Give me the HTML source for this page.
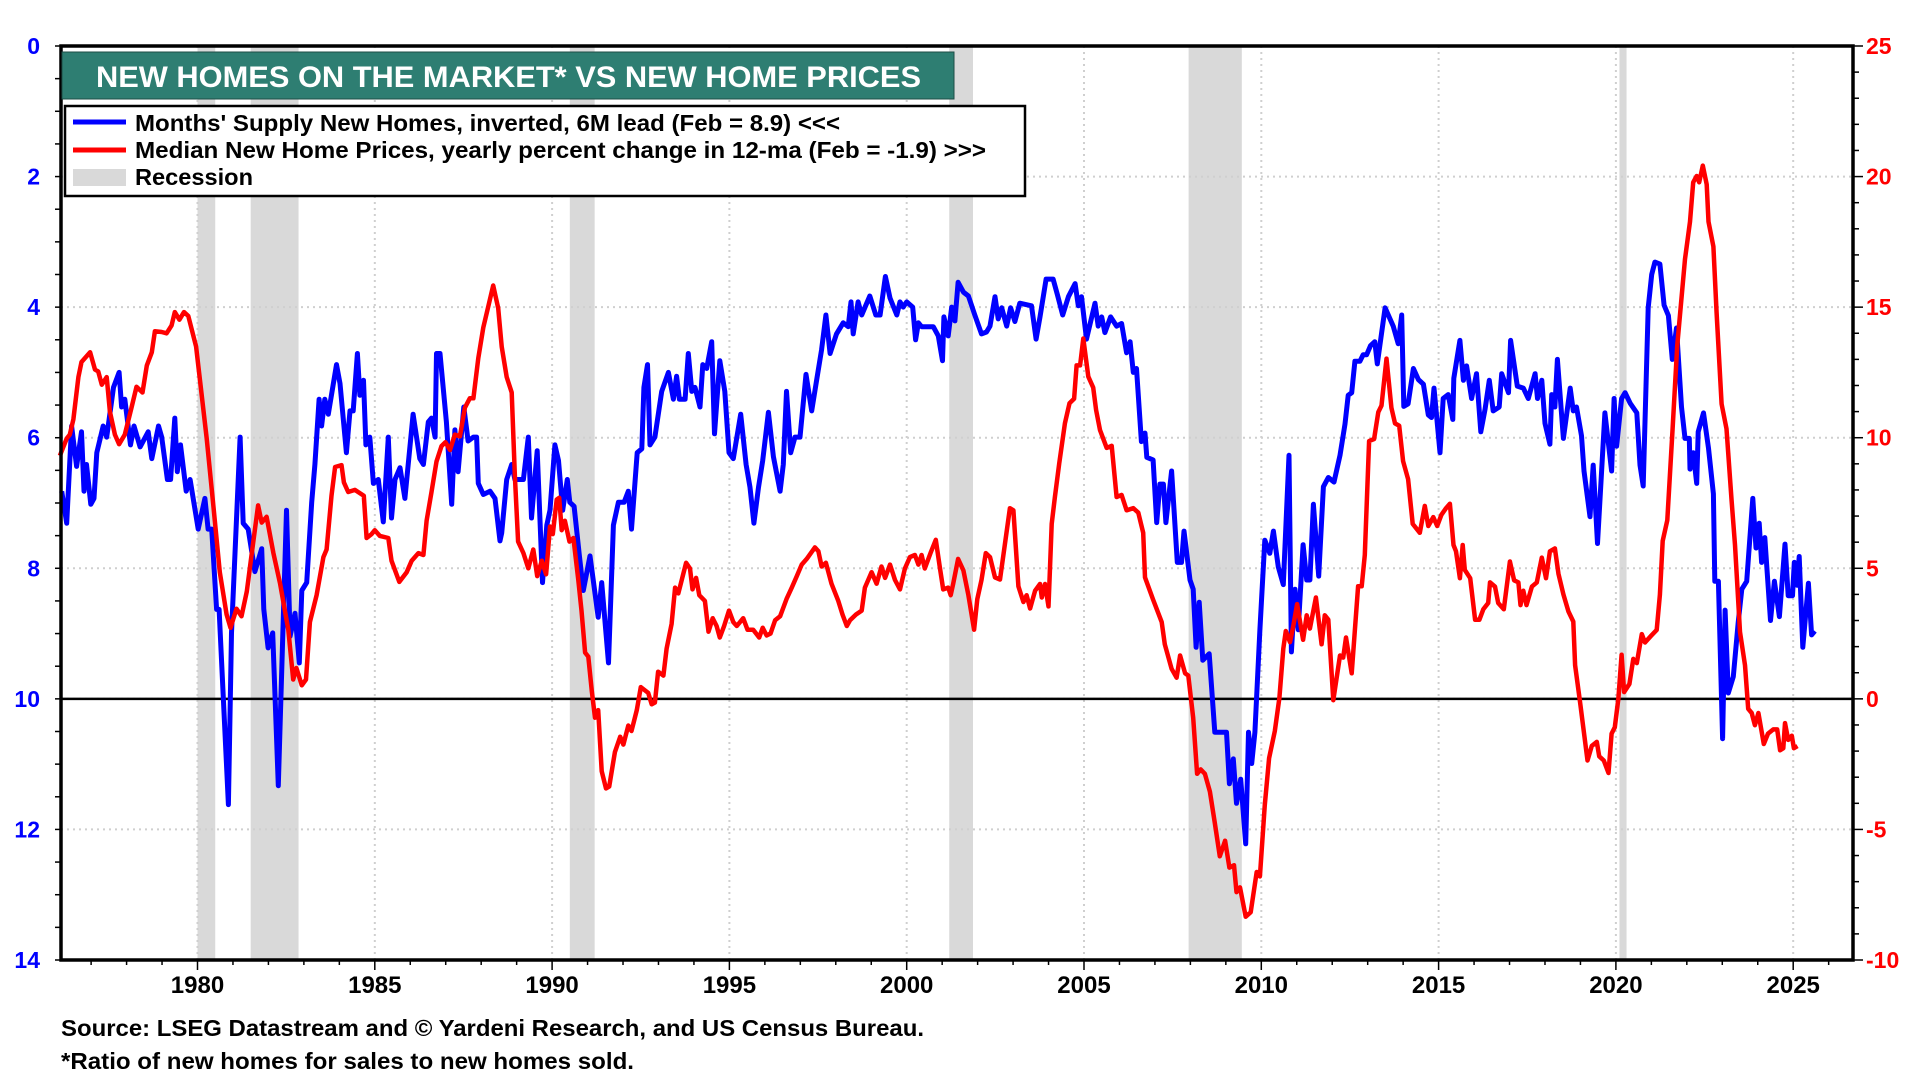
<!DOCTYPE html>
<html><head><meta charset="utf-8"><title>New Homes on the Market vs New Home Prices</title>
<style>
html,body{margin:0;padding:0;background:#fff;}
body{width:1920px;height:1080px;overflow:hidden;font-family:"Liberation Sans",Arial,sans-serif;}
svg text{font-family:"Liberation Sans",Arial,sans-serif;font-weight:bold;}
</style></head>
<body>
<svg id="chart" width="1920" height="1080" viewBox="0 0 1920 1080" xmlns="http://www.w3.org/2000/svg">
<g id="rec"></g>
<g id="grid"></g>
<line id="zeroline" x1="61" x2="1853" stroke="#000" stroke-width="2.5"/>
<g id="series"></g>
<g id="axes"></g>
<rect x="61" y="46" width="1792" height="914" fill="none" stroke="#000" stroke-width="3.5"/>
<g>
<rect x="62" y="52" width="892" height="47" fill="#2e7e72" stroke="#1d4d46" stroke-width="1"/>
<text x="96" y="87" textLength="825" lengthAdjust="spacingAndGlyphs" fill="#fff" font-size="30">NEW HOMES ON THE MARKET* VS NEW HOME PRICES</text>
</g>
<g>
<rect x="65" y="106" width="960" height="90" fill="#fff" stroke="#000" stroke-width="2.5"/>
<g><line x1="73" x2="126" y1="122" y2="122" stroke="#0000ff" stroke-width="5"/><text x="135" y="131" font-size="23" textLength="705" lengthAdjust="spacingAndGlyphs" fill="#000">Months' Supply New Homes, inverted, 6M lead (Feb = 8.9) &lt;&lt;&lt;</text></g>
<g><line x1="73" x2="126" y1="150" y2="150" stroke="#ff0000" stroke-width="5"/><text x="135" y="158" font-size="23" textLength="851" lengthAdjust="spacingAndGlyphs" fill="#000">Median New Home Prices, yearly percent change in 12-ma  (Feb = -1.9) &gt;&gt;&gt;</text></g>
<g><rect x="73" y="169" width="53" height="17" fill="#d9d9d9"/><text x="135" y="185" font-size="23" textLength="118" lengthAdjust="spacingAndGlyphs" fill="#000">Recession</text></g>
</g>
<text x="61" y="1036" font-size="23" textLength="863" lengthAdjust="spacingAndGlyphs" fill="#000">Source: LSEG Datastream and © Yardeni Research, and US Census Bureau.</text>
<text x="61" y="1069" font-size="23" textLength="573" lengthAdjust="spacingAndGlyphs" fill="#000">*Ratio of new homes for sales to new homes sold.</text>
</svg>
<script>
const blueYears=[1976.17,1976.31,1976.45,1976.59,1976.73,1976.80,1976.87,1976.99,1977.08,1977.16,1977.34,1977.44,1977.63,1977.79,1977.86,1977.95,1978.11,1978.21,1978.38,1978.61,1978.71,1978.90,1978.99,1979.15,1979.24,1979.36,1979.43,1979.52,1979.68,1979.79,1980.02,1980.21,1980.30,1980.40,1980.54,1980.61,1980.87,1980.96,1981.20,1981.29,1981.43,1981.62,1981.81,1981.87,1981.99,1982.12,1982.28,1982.51,1982.61,1982.75,1982.87,1982.94,1983.08,1983.22,1983.31,1983.43,1983.50,1983.59,1983.69,1983.92,1984.02,1984.20,1984.30,1984.39,1984.51,1984.58,1984.68,1984.75,1984.86,1984.96,1985.10,1985.24,1985.38,1985.47,1985.57,1985.71,1985.85,1986.08,1986.27,1986.37,1986.51,1986.60,1986.70,1986.74,1986.84,1987.02,1987.17,1987.26,1987.35,1987.51,1987.63,1987.78,1987.87,1987.92,1988.06,1988.25,1988.39,1988.53,1988.58,1988.72,1988.86,1988.95,1989.04,1989.19,1989.33,1989.42,1989.58,1989.73,1989.85,1989.94,1990.08,1990.18,1990.30,1990.43,1990.50,1990.62,1990.77,1990.88,1991.07,1991.30,1991.40,1991.59,1991.73,1991.87,1992.03,1992.15,1992.24,1992.40,1992.53,1992.59,1992.69,1992.76,1992.90,1993.09,1993.28,1993.42,1993.51,1993.59,1993.75,1993.84,1993.94,1994.03,1994.17,1994.25,1994.36,1994.50,1994.58,1994.73,1994.87,1994.99,1995.11,1995.32,1995.47,1995.58,1995.69,1995.82,1995.94,1996.10,1996.24,1996.43,1996.52,1996.61,1996.73,1996.85,1996.99,1997.16,1997.32,1997.46,1997.60,1997.72,1997.84,1998.02,1998.21,1998.35,1998.43,1998.49,1998.63,1998.73,1998.96,1999.13,1999.25,1999.40,1999.53,1999.72,1999.81,1999.90,2000.00,2000.17,2000.25,2000.33,2000.42,2000.75,2000.89,2001.01,2001.05,2001.17,2001.27,2001.36,2001.45,2001.60,2001.74,2001.92,2002.11,2002.25,2002.35,2002.49,2002.58,2002.68,2002.82,2002.93,2003.05,2003.19,2003.52,2003.65,2003.76,2003.93,2004.13,2004.25,2004.40,2004.56,2004.75,2004.84,2004.93,2005.07,2005.31,2005.40,2005.50,2005.59,2005.75,2005.92,2006.06,2006.20,2006.30,2006.39,2006.48,2006.62,2006.72,2006.77,2006.95,2007.05,2007.14,2007.24,2007.31,2007.47,2007.63,2007.75,2007.82,2007.99,2008.08,2008.16,2008.25,2008.35,2008.53,2008.69,2008.85,2009.02,2009.10,2009.21,2009.30,2009.42,2009.56,2009.64,2009.73,2009.82,2009.96,2010.10,2010.24,2010.34,2010.48,2010.62,2010.78,2010.85,2010.95,2011.04,2011.18,2011.28,2011.37,2011.47,2011.62,2011.75,2011.89,2012.05,2012.22,2012.36,2012.45,2012.55,2012.64,2012.78,2012.87,2012.97,2013.08,2013.20,2013.27,2013.49,2013.72,2013.86,2013.96,2014.02,2014.14,2014.29,2014.43,2014.57,2014.71,2014.80,2014.87,2014.94,2015.04,2015.13,2015.27,2015.40,2015.43,2015.60,2015.70,2015.79,2015.93,2016.07,2016.19,2016.31,2016.43,2016.54,2016.71,2016.78,2016.97,2017.03,2017.22,2017.39,2017.53,2017.72,2017.79,2017.91,2018.00,2018.14,2018.19,2018.28,2018.35,2018.52,2018.71,2018.80,2018.89,2019.03,2019.10,2019.27,2019.36,2019.48,2019.69,2019.88,2019.95,2020.02,2020.16,2020.26,2020.40,2020.59,2020.68,2020.77,2020.91,2021.01,2021.10,2021.24,2021.36,2021.48,2021.59,2021.71,2021.85,2021.95,2022.07,2022.09,2022.18,2022.28,2022.32,2022.47,2022.61,2022.75,2022.79,2022.89,2023.01,2023.08,2023.17,2023.31,2023.45,2023.55,2023.69,2023.86,2023.95,2024.04,2024.11,2024.20,2024.36,2024.47,2024.61,2024.77,2024.86,2024.98,2025.03,2025.11,2025.17,2025.27,2025.43,2025.52,2025.61];
const blueValues=[6.82,7.31,5.82,6.44,5.91,6.82,6.41,7.02,6.93,6.23,5.82,5.99,5.23,5.00,5.53,5.41,6.11,5.82,6.14,5.91,6.32,5.82,5.99,6.64,6.64,5.70,6.52,6.11,6.82,6.64,7.40,6.93,7.40,7.40,8.63,8.63,11.62,8.99,5.99,7.31,7.40,8.05,7.70,8.63,9.22,8.99,11.33,7.11,9.04,8.69,9.45,8.34,8.22,6.99,6.41,5.41,5.82,5.41,5.64,4.88,5.17,6.23,5.59,5.59,4.71,5.35,5.12,6.11,5.99,6.70,6.64,7.29,5.99,7.23,6.64,6.46,6.93,5.64,6.32,6.41,5.76,5.70,5.99,4.71,4.71,5.76,7.02,5.88,6.52,5.53,6.05,5.99,5.99,6.70,6.87,6.82,6.93,7.58,7.46,6.64,6.41,6.64,6.64,6.64,5.99,7.23,6.20,8.22,7.34,7.11,6.11,6.35,7.11,6.64,6.99,7.05,7.81,8.34,7.81,8.75,8.22,9.45,7.34,6.99,6.99,6.82,7.40,6.23,6.17,5.23,4.88,6.11,5.99,5.29,5.00,5.41,5.06,5.41,5.41,4.71,5.29,5.23,5.53,4.88,4.94,4.53,5.94,4.82,5.29,6.23,6.32,5.64,6.41,6.76,7.31,6.76,6.35,5.61,6.29,6.82,6.41,5.29,6.23,5.99,5.99,5.03,5.59,5.12,4.65,4.12,4.71,4.41,4.24,4.30,3.92,4.41,3.92,4.12,3.83,4.12,4.12,3.53,3.86,4.12,3.92,4.00,3.92,4.00,4.50,4.24,4.30,4.30,4.44,4.82,4.15,4.44,4.00,4.21,3.62,3.77,3.83,4.12,4.41,4.38,4.29,3.84,4.18,4.01,4.29,4.01,4.22,3.94,3.98,4.49,4.15,3.57,3.57,3.81,4.12,3.84,3.64,3.98,3.84,4.49,3.94,4.29,4.15,4.39,4.15,4.29,4.25,4.70,4.53,5.00,4.94,6.06,5.93,6.30,6.34,7.30,6.71,6.71,7.30,6.51,7.91,7.91,7.43,8.18,8.32,9.21,8.52,9.41,9.31,10.51,10.51,10.51,11.30,10.92,11.60,11.23,12.22,10.51,10.99,10.51,8.94,7.57,7.77,7.43,7.98,8.25,6.27,9.28,8.32,8.94,7.64,8.18,8.18,7.02,8.12,6.75,6.61,6.68,6.27,5.79,5.35,5.31,4.83,4.83,4.73,4.73,4.59,4.53,4.87,4.01,4.29,4.56,4.12,5.52,5.48,4.94,5.11,5.18,5.65,5.69,5.24,5.65,6.23,5.40,5.34,5.72,5.09,4.51,5.12,4.90,5.40,5.02,5.91,5.56,5.12,5.59,5.53,5.02,5.31,4.51,5.21,5.24,5.40,5.02,5.40,5.12,5.78,6.10,5.34,5.53,4.80,6.01,5.24,5.59,5.53,5.97,6.51,7.21,6.42,7.62,5.62,6.51,5.40,6.13,5.40,5.31,5.47,5.62,6.42,6.74,4.01,3.50,3.31,3.34,3.97,4.13,4.80,4.32,5.53,6.01,6.01,6.48,6.23,6.70,5.91,5.62,6.16,6.86,8.20,8.20,10.61,8.64,9.91,9.66,8.83,8.32,8.20,6.93,7.69,7.31,7.91,7.53,8.80,8.20,8.74,7.63,8.42,8.42,7.91,8.26,7.82,9.21,8.23,9.02,8.96];
const redYears=[1976.12,1976.31,1976.40,1976.50,1976.64,1976.73,1976.97,1977.11,1977.20,1977.30,1977.44,1977.53,1977.67,1977.79,1977.95,1978.14,1978.28,1978.45,1978.57,1978.71,1978.80,1978.99,1979.13,1979.27,1979.36,1979.49,1979.62,1979.74,1979.96,1980.26,1980.45,1980.63,1980.82,1980.93,1981.10,1981.24,1981.39,1981.53,1981.71,1981.81,1981.95,1982.14,1982.33,1982.56,1982.70,1982.79,1982.94,1983.06,1983.17,1983.36,1983.55,1983.64,1983.78,1983.88,1984.06,1984.13,1984.25,1984.44,1984.53,1984.69,1984.77,1984.91,1985.00,1985.14,1985.38,1985.47,1985.69,1985.90,1986.04,1986.23,1986.37,1986.46,1986.60,1986.74,1986.88,1986.99,1987.12,1987.26,1987.40,1987.54,1987.68,1987.78,1987.92,1988.06,1988.20,1988.34,1988.48,1988.58,1988.72,1988.86,1988.95,1989.04,1989.19,1989.33,1989.47,1989.58,1989.71,1989.83,1989.94,1990.02,1990.13,1990.20,1990.27,1990.36,1990.49,1990.60,1990.74,1990.83,1990.93,1991.02,1991.12,1991.21,1991.30,1991.40,1991.52,1991.61,1991.77,1991.92,1992.01,1992.15,1992.24,1992.39,1992.50,1992.71,1992.81,1992.90,1992.99,1993.14,1993.23,1993.37,1993.47,1993.56,1993.63,1993.78,1993.89,1993.96,1994.06,1994.15,1994.31,1994.41,1994.53,1994.64,1994.73,1994.85,1994.99,1995.11,1995.21,1995.39,1995.51,1995.67,1995.84,1995.94,1996.05,1996.16,1996.29,1996.43,1996.61,1996.76,1996.90,1997.04,1997.18,1997.41,1997.51,1997.60,1997.72,1997.88,1998.07,1998.19,1998.31,1998.40,1998.57,1998.73,1998.82,1999.01,1999.15,1999.29,1999.39,1999.53,1999.67,1999.81,1999.95,2000.09,2000.23,2000.33,2000.42,2000.51,2000.67,2000.82,2000.94,2001.03,2001.17,2001.24,2001.31,2001.45,2001.60,2001.74,2001.90,2001.99,2002.11,2002.23,2002.35,2002.49,2002.63,2002.91,2003.01,2003.15,2003.29,2003.38,2003.48,2003.62,2003.76,2003.81,2003.90,2004.00,2004.09,2004.18,2004.30,2004.46,2004.59,2004.72,2004.79,2004.89,2004.98,2005.12,2005.26,2005.34,2005.45,2005.64,2005.78,2005.92,2006.06,2006.20,2006.39,2006.53,2006.67,2006.72,2006.95,2007.19,2007.28,2007.47,2007.61,2007.71,2007.85,2007.94,2008.08,2008.19,2008.29,2008.41,2008.55,2008.69,2008.83,2008.98,2009.10,2009.23,2009.30,2009.40,2009.56,2009.70,2009.87,2009.96,2010.10,2010.22,2010.38,2010.51,2010.62,2010.69,2010.81,2010.90,2011.01,2011.18,2011.28,2011.37,2011.54,2011.70,2011.79,2011.89,2012.03,2012.22,2012.31,2012.39,2012.55,2012.73,2012.83,2012.92,2013.04,2013.18,2013.30,2013.39,2013.53,2013.67,2013.77,2013.89,2014.00,2014.14,2014.27,2014.47,2014.61,2014.71,2014.85,2014.96,2015.08,2015.21,2015.32,2015.42,2015.49,2015.60,2015.68,2015.74,2015.89,2016.03,2016.15,2016.26,2016.40,2016.45,2016.59,2016.68,2016.84,2017.01,2017.13,2017.25,2017.31,2017.39,2017.48,2017.63,2017.77,2017.91,2018.03,2018.14,2018.28,2018.38,2018.52,2018.66,2018.80,2018.85,2018.99,2019.20,2019.32,2019.46,2019.53,2019.66,2019.79,2019.88,2019.97,2020.07,2020.16,2020.23,2020.38,2020.49,2020.59,2020.73,2020.82,2020.98,2021.15,2021.24,2021.32,2021.45,2021.60,2021.73,2021.95,2022.09,2022.18,2022.28,2022.35,2022.45,2022.56,2022.61,2022.75,2022.84,2022.98,2023.12,2023.26,2023.36,2023.50,2023.64,2023.73,2023.83,2023.92,2024.02,2024.17,2024.29,2024.44,2024.55,2024.63,2024.72,2024.77,2024.86,2024.96,2025.02,2025.12];
const redValues=[9.31,9.97,10.12,10.71,12.32,12.90,13.27,12.61,12.54,12.03,12.32,11.00,10.12,9.75,10.12,11.15,11.95,11.73,12.76,13.27,14.08,14.05,14.00,14.30,14.81,14.52,14.81,14.66,13.49,9.97,7.34,4.85,3.23,2.72,3.45,3.16,4.11,5.58,7.41,6.75,6.97,5.58,4.41,2.65,0.74,1.18,0.52,0.74,2.94,3.97,5.43,5.72,7.78,8.88,8.95,8.29,7.92,8.00,7.92,7.78,6.16,6.31,6.46,6.24,6.16,5.29,4.48,4.85,5.29,5.58,5.51,6.82,7.92,9.09,9.68,9.83,9.53,10.12,10.05,11.15,11.51,11.51,13.05,14.22,15.03,15.83,14.96,13.49,12.32,11.73,8.51,6.02,5.58,5.00,5.72,4.70,5.29,4.77,6.60,6.31,7.63,7.70,6.46,6.82,6.02,6.16,4.55,3.38,1.77,1.62,0.30,-0.72,-0.43,-2.77,-3.43,-3.36,-2.04,-1.45,-1.75,-1.02,-1.23,-0.43,0.45,0.23,-0.21,-0.14,1.04,0.89,1.92,2.87,4.26,4.04,4.41,5.21,4.99,4.19,4.63,3.97,3.75,2.57,3.09,2.79,2.35,2.79,3.38,2.94,2.79,3.09,2.65,2.65,2.35,2.72,2.43,2.50,3.01,3.16,3.82,4.26,4.70,5.14,5.36,5.80,5.65,5.07,5.21,4.41,3.75,3.23,2.79,3.01,3.23,3.38,4.26,4.85,4.41,5.07,4.63,5.14,4.55,4.19,4.99,5.43,5.51,5.14,5.51,4.99,5.58,6.09,4.99,4.19,4.26,3.97,4.41,5.36,4.92,3.97,2.65,3.82,4.55,5.58,5.43,4.65,4.57,7.30,7.22,4.31,3.71,3.97,3.46,4.14,4.40,3.88,4.40,3.54,6.70,7.73,9.01,10.55,11.32,11.49,12.77,12.77,13.80,12.34,11.92,11.06,10.29,9.61,9.69,7.73,7.81,7.22,7.30,7.13,6.36,4.65,3.80,2.94,2.09,1.15,0.81,1.66,0.98,0.89,-0.73,-2.87,-2.70,-2.87,-3.55,-4.75,-6.03,-5.43,-6.46,-6.37,-7.40,-7.22,-8.34,-8.17,-6.63,-6.80,-4.06,-2.27,-1.24,0.04,1.92,2.60,2.17,2.77,3.63,2.26,3.20,2.69,3.88,2.09,3.20,3.03,-0.05,1.66,1.58,2.35,0.98,4.31,4.31,5.51,9.87,9.95,10.98,11.23,13.03,11.15,10.55,10.46,9.10,8.41,6.70,6.36,7.39,6.62,6.96,6.62,7.05,7.30,7.47,5.89,5.65,4.62,5.89,4.94,4.62,3.03,3.03,3.43,3.67,4.46,4.30,3.67,3.43,5.26,4.54,4.46,3.59,4.14,3.59,4.30,4.46,5.41,4.62,5.65,5.76,4.78,4.00,3.35,2.96,1.29,-0.14,-2.36,-1.80,-1.65,-2.20,-2.36,-2.84,-1.33,-1.09,0.02,1.69,0.26,0.57,1.53,1.37,2.48,2.16,2.40,2.64,3.99,6.05,6.84,10.34,13.51,16.84,18.27,19.78,20.02,19.78,20.42,19.70,18.27,17.32,14.78,11.29,10.34,7.64,5.89,2.56,1.29,-0.38,-0.54,-1.01,-0.54,-1.73,-1.33,-1.17,-1.17,-1.97,-1.89,-0.93,-1.57,-1.41,-1.89,-1.81];
const recStarts=[1980.0,1981.5,1990.5,2001.2,2007.95,2020.1];
const recEnds=[1980.5,1982.85,1991.2,2001.87,2009.45,2020.3];
const yearTicks=[1980,1985,1990,1995,2000,2005,2010,2015,2020,2025];
const leftTicks=[0,2,4,6,8,10,12,14];
const rightTicks=[25,20,15,10,5,0,-5,-10];

const PL=61,PR=1853,PT=46,PB=960;
const X0=1980,XPX=35.46,XPIX0=197.5;
function xs(yr){return XPIX0+(yr-X0)*XPX;}
function yL(v){return PT+(v-0)/(14-0)*(PB-PT);}
function yR(v){return PB-(v+10)/35*(PB-PT);}
const NS="http://www.w3.org/2000/svg";
function mk(tag,attrs,parent){const e=document.createElementNS(NS,tag);for(const k in attrs)e.setAttribute(k,attrs[k]);parent.appendChild(e);return e;}

const rec=document.getElementById('rec');
for(let i=0;i<recStarts.length;i++){
  const r=mk('rect',{x:xs(recStarts[i]),y:PT,width:xs(recEnds[i])-xs(recStarts[i]),height:PB-PT,fill:'#d9d9d9'},rec);
  
  
}
const grid=document.getElementById('grid');
leftTicks.forEach(t=>{ if(t>0&&t<14){const l=mk('line',{x1:PL,x2:PR,y1:yL(t),y2:yL(t),stroke:'#cfcfcf','stroke-width':2,'stroke-dasharray':'2,4'},grid);
  
  }});
yearTicks.forEach(t=>{const l=mk('line',{x1:xs(t),x2:xs(t),y1:PT,y2:PB,stroke:'#cfcfcf','stroke-width':2,'stroke-dasharray':'2,4'},grid);
  
  });
document.getElementById('zeroline').setAttribute('y1',yR(0));
document.getElementById('zeroline').setAttribute('y2',yR(0));

const axes=document.getElementById('axes');
for(let v=0;v<=14;v+=0.5){mk('line',{x1:PL-6,x2:PL,y1:yL(v),y2:yL(v),stroke:'#000','stroke-width':1.5},axes);}
for(let v=-10;v<=25;v+=1){mk('line',{x1:PR,x2:PR+(v%5===0?10:6),y1:yR(v),y2:yR(v),stroke:'#000','stroke-width':1.5},axes);}
for(let y=1977;y<=2026;y++){mk('line',{x1:xs(y),x2:xs(y),y1:PB,y2:PB+(y%5===0?10:5),stroke:'#000','stroke-width':1.5},axes);}
leftTicks.forEach(t=>{const e=mk('text',{x:40,y:yL(t)+8,'text-anchor':'end','font-size':23,fill:'#0000ff'},axes);e.textContent=t;
  
  });
rightTicks.forEach(t=>{const e=mk('text',{x:1866,y:yR(t)+8,'text-anchor':'start','font-size':23,fill:'#ff0000'},axes);e.textContent=t;
  
  });
yearTicks.forEach(t=>{const e=mk('text',{x:xs(t),y:993,'text-anchor':'middle','font-size':24,fill:'#000'},axes);e.textContent=t;
  
  });

const series=document.getElementById('series');
let d='';blueYears.forEach((yr,i)=>{d+=(i?'L':'M')+xs(yr).toFixed(1)+','+yL(blueValues[i]).toFixed(1);});
const bl=mk('path',{d:d,fill:'none',stroke:'#0000ff','stroke-width':5,'stroke-linejoin':'round'},series);


d='';redYears.forEach((yr,i)=>{d+=(i?'L':'M')+xs(yr).toFixed(1)+','+yR(redValues[i]).toFixed(1);});
const rl=mk('path',{d:d,fill:'none',stroke:'#ff0000','stroke-width':4.5,'stroke-linejoin':'round'},series);


</script>
</body></html>
